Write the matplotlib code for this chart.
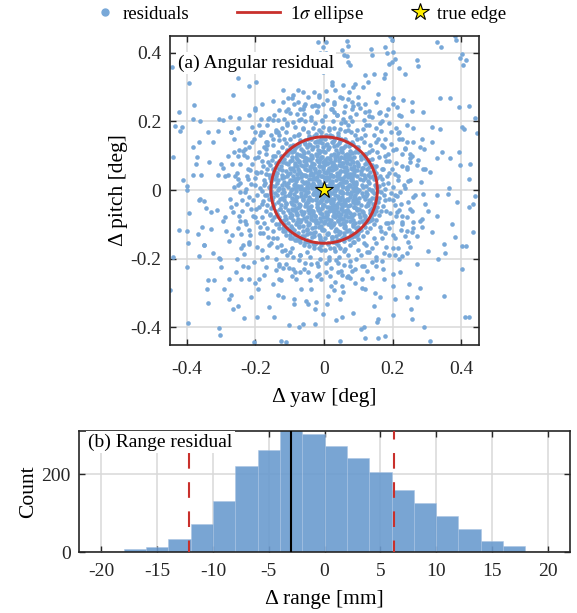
import numpy as np
import matplotlib
matplotlib.use("Agg")
import matplotlib.pyplot as plt
from matplotlib.patches import Ellipse
from matplotlib.lines import Line2D
from matplotlib.ticker import FuncFormatter

plt.rcParams["font.family"] = ["Liberation Serif", "DejaVu Serif"]
plt.rcParams["mathtext.fontset"] = "stix"
plt.rcParams["axes.unicode_minus"] = False

# angular residuals, (yaw, pitch) in milli-degrees
core_pts = [
    (-40, 152), (-12, 147), (18, 155), (45, 144), (5, 160), (-28, 141),
    (-80, 128), (-55, 133), (-31, 126), (-6, 137), (14, 124), (37, 131), (62, 127), (83, 135),
    (-68, 119), (24, 139), (-18, 118), (50, 116),
    (-105, 108), (-88, 114), (-71, 103), (-47, 111), (-25, 106), (-3, 113), (20, 101), (41, 109),
    (66, 104), (90, 112), (108, 99), (-60, 96), (7, 94), (77, 92), (-35, 92), (-95, 95),
    (-128, 84), (-112, 78), (-93, 88), (-74, 81), (-52, 86), (-29, 77), (-11, 89), (9, 80),
    (31, 87), (53, 79), (72, 90), (96, 83), (118, 76), (131, 88), (-63, 70), (-40, 66), (-2, 68),
    (22, 71), (63, 66), (88, 70), (-85, 72), (110, 63),
    (-142, 52), (-124, 59), (-106, 47), (-88, 56), (-69, 50), (-50, 58), (-32, 45), (-14, 55),
    (4, 49), (23, 58), (42, 46), (59, 54), (78, 48), (97, 57), (115, 45), (134, 53), (-118, 38),
    (-77, 36), (-45, 32), (-20, 38), (12, 34), (36, 29), (70, 37), (104, 33), (141, 40),
    (-135, 30), (-95, 28), (85, 24), (55, 22), (-60, 20),
    (-151, 12), (-131, 5), (-112, 16), (-94, 2), (-76, 11), (-57, 4), (-39, 15), (-21, 6),
    (-8, 18), (14, 3), (31, 13), (48, -2), (67, 9), (86, 17), (103, 1), (121, 12), (139, -4),
    (154, 8), (-143, -10), (-101, -15), (-66, -8), (-29, -12), (6, -16), (40, -20), (77, -11),
    (112, -18), (148, -22), (-124, -24), (-84, -28), (-47, -30), (-11, -34), (22, -27),
    (58, -33), (95, -37), (130, -30),
    (-148, -47), (-129, -55), (-110, -42), (-91, -58), (-73, -49), (-54, -40), (-36, -62),
    (-17, -51), (1, -44), (19, -57), (37, -48), (56, -61), (74, -43), (92, -52), (111, -60),
    (128, -45), (146, -56), (-138, -72), (-98, -78), (-63, -70), (-27, -76), (8, -69), (45, -79),
    (82, -73), (120, -77), (-118, -88), (-80, -92), (-44, -95), (-8, -90), (28, -97), (64, -91),
    (101, -94), (137, -86),
    (-117, -106), (-95, -112), (-72, -104), (-50, -117), (-28, -108), (-5, -114), (17, -103),
    (39, -118), (60, -110), (83, -105), (105, -116), (-85, -128), (-58, -133), (-33, -126),
    (-12, -137), (11, -129), (35, -134), (58, -125), (80, -131), (-40, -148), (-3, -152),
    (24, -146), (52, -141), (-70, -142),
    (-90, 40), (-82, -20), (-75, 60), (-70, -45), (-65, 25), (-58, -65), (-52, 75), (-48, 5),
    (-44, -20), (-40, 45), (-37, -85), (-33, 20), (-30, -5), (-26, 60), (-22, -40), (-19, 85),
    (-16, 25), (-13, -68), (-10, 5), (-7, 42), (-4, -22), (-1, 72), (2, -5), (5, 28), (8, -50),
    (11, 58), (14, 15), (17, -30), (20, 82), (23, -8), (26, 40), (29, -62), (32, -15), (35, 65),
    (38, 8), (41, -38), (44, 90), (47, 20), (50, -55), (53, -10), (56, 35), (60, -75), (63, 50),
    (66, 2), (70, -28), (74, 75), (78, -5), (82, 30), (86, -50), (90, 10), (94, -25), (-95, -40),
    (-88, 15), (-78, -70), (-72, 85), (-62, -28), (-55, 45), (-46, -48), (-42, 88), (-35, -30),
    (-28, 32), (-24, -92), (-20, -15), (-15, 52), (-11, -82), (-6, 12), (-3, -45), (0, 38),
    (3, 88), (6, -78), (9, 0), (12, -20), (16, 48), (19, -88), (22, 25), (27, -45), (30, 72),
    (34, -72), (37, 40), (40, -90), (43, -25), (46, 55), (49, -40), (52, 12), (55, -85), (58, 68),
    (62, -45), (65, 22), (69, -62), (72, 48), (76, -20), (80, 60), (84, -35), (88, 45), (-98, -10),
    (-92, 65), (-85, -55), (-80, 35), (-66, -88), (-60, 0), (-50, -80), (-38, 70), (-32, -60),
    (-25, 10), (-18, -58), (-12, 70), (-8, -30), (-2, 15), (4, -32), (10, 80), (15, -60), (21, 45),
    (25, -75), (31, -2), (36, -55), (42, 35), (48, -70), (54, 80), (59, -30), (64, 85), (68, -10),
    (73, 15), (79, -80), (85, 5), (-93, -72), (-87, -30), (-79, 10), (-68, 48), (-57, -15),
    (-45, -100), (-34, 100), (-23, -25), (-14, -5), (-5, 95), (1, -95), (13, 35), (24, -50),
    (33, 95), (45, -5), (57, -100), (67, 95), (77, 40), (87, -70), (97, -5),
]

core_fill_pts = [
    (-30, 157), (-5, 151), (22, 158),
    (-55, 145), (-38, 149), (-20, 144), (2, 150), (30, 146), (48, 149),
    (-72, 136), (-60, 141), (-44, 135), (-15, 140), (8, 134), (25, 141), (42, 137), (66, 139), (78, 133),
    (-90, 126), (-74, 131), (-50, 124), (-40, 130), (-22, 127), (-2, 125), (6, 132), (30, 128),
    (55, 123), (72, 129), (92, 126),
    (-100, 116), (-84, 121), (-62, 115), (-36, 120), (-12, 114), (12, 119), (34, 117), (48, 122),
    (76, 115), (97, 119),
    (-112, 106), (-94, 110), (-80, 104), (-58, 109), (-38, 103), (-14, 107), (2, 111), (30, 105),
    (52, 110), (60, 102), (82, 107), (100, 111), (118, 105),
    (-122, 96), (-108, 101), (-82, 95), (-64, 99), (-52, 94), (-20, 100), (-8, 96), (14, 93),
    (38, 99), (48, 95), (72, 101), (88, 96), (106, 100), (120, 94),
    (-132, 86), (-118, 91), (-100, 85), (-78, 90), (-58, 84), (-44, 89), (-22, 87), (-4, 83),
    (18, 90), (42, 86), (58, 92), (80, 85), (106, 89), (124, 84),
    (-138, 76), (-120, 81), (-104, 75), (-86, 80), (-66, 74), (-36, 79), (-16, 82), (4, 76),
    (26, 80), (44, 73), (66, 78), (84, 82), (100, 75), (126, 79), (138, 74),
    (-140, 66), (-126, 71), (-98, 64), (-80, 69), (-52, 72), (-30, 65), (-14, 70), (14, 64),
    (32, 69), (50, 71), (78, 65), (98, 70), (114, 63), (130, 68), (144, 66),
    (-146, 56), (-132, 61), (-112, 55), (-96, 60), (-74, 54), (-56, 62), (-40, 57), (-26, 53),
    (-4, 60), (12, 56), (30, 61), (50, 54), (68, 59), (86, 62), (108, 55), (124, 60), (144, 57),
    (-150, 46), (-138, 51), (-122, 44), (-100, 50), (-80, 47), (-62, 43), (-38, 51), (-18, 46),
    (0, 52), (20, 44), (38, 49), (66, 45), (88, 52), (106, 47), (128, 43), (150, 50),
    (-152, 36), (-140, 41), (-124, 35), (-108, 40), (-86, 33), (-68, 39), (-54, 42), (-30, 35),
    (-10, 40), (8, 37), (26, 42), (46, 34), (60, 40), (82, 36), (96, 41), (118, 34), (134, 39), (154, 35),
    (-156, 26), (-142, 31), (-116, 24), (-100, 30), (-82, 27), (-52, 23), (-36, 31), (-18, 26),
    (2, 29), (18, 24), (48, 31), (64, 25), (78, 29), (94, 23), (112, 30), (128, 26), (144, 31),
    (-156, 16), (-138, 21), (-122, 14), (-104, 20), (-86, 17), (-66, 13), (-48, 21), (-30, 15),
    (-14, 19), (4, 13), (22, 20), (40, 16), (58, 22), (76, 14), (94, 19), (110, 15), (130, 21), (148, 16),
    (-158, 6), (-144, 11), (-120, 4), (-104, 10), (-86, 7), (-70, 3), (-50, 11), (-34, 5),
    (-16, 9), (2, 6), (20, 11), (38, 4), (56, 8), (74, 12), (92, 5), (112, 9), (132, 3), (150, 10),
    (-154, -4), (-133, 1), (-118, -6), (-97, 0), (-82, -3), (-61, 2), (-46, -7), (-23, -1),
    (-8, 3), (15, -5), (30, 0), (51, -6), (66, 2), (87, -3), (100, 1), (123, -7), (138, 0), (156, -4),
    (-156, -10), (-137, -15), (-122, -8), (-103, -14), (-88, -11), (-67, -16), (-52, -9), (-33, -13),
    (-18, -7), (3, -14), (18, -10), (39, -16), (54, -8), (75, -12), (90, -15), (111, -9), (126, -13), (146, -8),
    (-150, -20), (-129, -25), (-114, -18), (-93, -24), (-78, -21), (-57, -17), (-42, -26), (-21, -19),
    (-6, -23), (15, -18), (30, -25), (51, -20), (66, -27), (87, -19), (102, -24), (123, -17), (138, -22), (152, -26),
    (-152, -30), (-133, -35), (-118, -28), (-97, -34), (-82, -31), (-61, -27), (-46, -36), (-25, -29),
    (-10, -33), (11, -28), (26, -35), (47, -30), (62, -37), (83, -29), (98, -34), (119, -27), (134, -32), (150, -36),
    (-146, -40), (-125, -45), (-110, -38), (-89, -44), (-74, -41), (-53, -37), (-38, -46), (-17, -39),
    (-2, -43), (19, -38), (34, -45), (55, -40), (70, -47), (91, -39), (106, -44), (127, -37), (142, -42),
    (-148, -50), (-129, -55), (-114, -48), (-93, -54), (-78, -51), (-57, -47), (-42, -56), (-21, -49),
    (-6, -53), (15, -48), (30, -55), (51, -50), (66, -57), (87, -49), (102, -54), (123, -47), (138, -52),
    (-140, -60), (-119, -65), (-104, -58), (-83, -64), (-68, -61), (-47, -57), (-32, -66), (-11, -59),
    (4, -63), (25, -58), (40, -65), (61, -60), (76, -67), (97, -59), (112, -64), (133, -57), (146, -62),
    (-136, -70), (-115, -75), (-100, -68), (-79, -74), (-64, -71), (-43, -67), (-28, -76), (-7, -69),
    (8, -73), (29, -68), (44, -75), (65, -70), (80, -77), (101, -69), (116, -74), (134, -67),
    (-132, -80), (-111, -85), (-96, -78), (-75, -84), (-60, -81), (-39, -77), (-24, -86), (-3, -79),
    (12, -83), (33, -78), (48, -85), (69, -80), (84, -87), (105, -79), (120, -84), (136, -77),
    (-126, -90), (-105, -95), (-90, -88), (-69, -94), (-54, -91), (-33, -87), (-18, -96), (3, -89),
    (18, -93), (39, -88), (54, -95), (75, -90), (90, -97), (111, -89), (126, -94),
    (-118, -100), (-97, -105), (-82, -98), (-61, -104), (-46, -101), (-25, -97), (-10, -106), (11, -99),
    (26, -103), (47, -98), (62, -105), (83, -100), (98, -107), (116, -99),
    (-108, -110), (-87, -115), (-72, -108), (-51, -114), (-36, -111), (-15, -107), (0, -116), (21, -109),
    (36, -113), (57, -108), (72, -115), (93, -110), (108, -117),
    (-98, -120), (-77, -125), (-62, -118), (-41, -124), (-26, -121), (-5, -117), (10, -126), (31, -119),
    (46, -123), (67, -118), (82, -125), (100, -120),
    (-86, -130), (-65, -135), (-50, -128), (-29, -134), (-14, -131), (7, -127), (22, -136), (43, -129),
    (58, -133), (79, -128), (90, -135),
    (-70, -140), (-49, -145), (-34, -138), (-13, -144), (2, -141), (23, -137), (38, -146), (59, -139), (72, -143),
    (-46, -150), (-25, -155), (-10, -148), (11, -154), (26, -151), (44, -147),
]

ring_pts = [
    (172, 18), (195, -8), (214, 30), (236, 5), (258, -20), (283, 22), (205, 48),
    (168, 62), (188, 85), (226, 70), (249, 105), (272, 88), (210, 120), (295, 60),
    (130, 110), (150, 140), (175, 125), (196, 170), (218, 148), (240, 190), (162, 195),
    (95, 150), (112, 178), (80, 200), (130, 215), (104, 240), (150, 255), (70, 265),
    (40, 165), (15, 182), (-10, 170), (55, 208), (28, 226), (-18, 245), (45, 270), (5, 288),
    (-45, 158), (-62, 180), (-38, 205), (-80, 222), (-55, 250), (-95, 268), (-30, 285),
    (-100, 128), (-118, 150), (-140, 175), (-108, 196), (-160, 210), (-130, 232), (-180, 250),
    (-148, 100), (-170, 120), (-192, 96), (-210, 140), (-235, 115), (-188, 160), (-262, 150),
    (-160, 45), (-178, 70), (-200, 35), (-222, 60), (-245, 20), (-268, 75), (-290, 40),
    (-165, -15), (-186, 5), (-208, -30), (-230, -5), (-252, 15), (-275, -25), (-198, -55),
    (-158, -70), (-176, -95), (-200, -80), (-220, -115), (-245, -90), (-268, -130), (-188, -125),
    (-120, -110), (-138, -140), (-160, -160), (-182, -175), (-140, -200), (-205, -210), (-115, -175),
    (-80, -145), (-95, -168), (-70, -190), (-110, -215), (-85, -240), (-125, -262), (-60, -230),
    (-30, -160), (-8, -175), (15, -195), (-22, -212), (5, -238), (-40, -262), (20, -280),
    (40, -160), (58, -178), (35, -205), (75, -220), (52, -248), (90, -270), (30, -290),
    (95, -130), (115, -155), (130, -180), (150, -205), (110, -220), (172, -230), (140, -255),
    (140, -85), (162, -108), (185, -95), (200, -130), (225, -115), (245, -150), (215, -170),
    (158, -35), (180, -60), (205, -45), (228, -75), (250, -55), (278, -90), (295, -40),
    (165, -5), (182, 40), (200, 10), (176, 100), (158, 150), (120, 160), (70, 175), (-5, 200),
    (-75, 160), (-130, 145), (-165, 130), (-172, 20), (-180, -40), (-150, -120), (-95, -140),
    (-50, -180), (30, -170), (85, -150), (150, -60), (190, -25), (240, 60), (225, 215),
    (180, 220), (100, 270), (-15, 270), (-75, 255), (-150, 260), (-210, 185), (-250, 180),
    (-225, 95), (-280, 100), (-270, -50), (-235, -160), (-170, -225), (-95, -250), (-10, -260),
    (70, -250), (125, -235), (190, -190), (260, -110), (265, -15), (290, 120), (255, 230),
    (200, 250), (-120, 290), (-200, 240), (-290, -80), (-255, -200), (-190, -260), (110, -285),
    (178, 3), (221, -6), (186, 20), (232, 15), (169, 33), (214, 40), (190, 49), (240, 68),
    (172, 60), (209, 78), (180, 86), (226, 104), (160, 95), (200, 118), (154, 110), (196, 135),
    (140, 118), (178, 150), (133, 132), (165, 172), (117, 141), (150, 180), (106, 152), (130, 188),
    (90, 160), (115, 205), (78, 168), (92, 222), (60, 172), (76, 212), (47, 178), (58, 228),
    (30, 180), (38, 218), (14, 176), (20, 235), (-3, 185), (2, 216), (-16, 176), (-20, 228),
    (-32, 182), (-38, 212), (-46, 170), (-58, 222), (-62, 178), (-74, 205), (-72, 162), (-90, 198),
    (-88, 158), (-108, 190), (-100, 150), (-124, 180), (-112, 136), (-140, 168), (-124, 124),
    (-150, 150), (-134, 112), (-166, 140), (-144, 100), (-176, 126), (-152, 88), (-190, 110),
    (-158, 74), (-200, 92), (-166, 60), (-210, 76), (-170, 46), (-216, 58), (-176, 30), (-224, 40),
    (-174, 16), (-212, 18), (-180, -2), (-228, 3), (-172, -15), (-218, -20), (-178, -32), (-226, -40),
    (-166, -45), (-212, -56), (-170, -62), (-206, -75), (-158, -74), (-196, -92), (-152, -88),
    (-186, -108), (-140, -98), (-178, -124), (-132, -110), (-164, -138), (-120, -120), (-154, -154),
    (-110, -132), (-138, -166), (-98, -140), (-124, -178), (-84, -146), (-108, -188), (-70, -152),
    (-90, -196), (-58, -160), (-74, -204), (-44, -164), (-56, -212), (-30, -170), (-38, -216),
    (-14, -168), (-18, -222), (2, -174), (4, -214), (16, -170), (20, -226), (32, -178), (40, -212),
    (46, -168), (58, -218), (60, -172), (76, -206), (74, -160), (92, -200), (86, -152), (108, -188),
    (100, -144), (124, -180), (112, -134), (140, -168), (124, -122), (152, -154), (134, -112),
    (168, -140), (144, -100), (178, -126), (152, -88), (190, -110), (160, -74), (198, -92),
    (166, -60), (210, -76), (172, -46), (218, -58), (176, -30), (224, -40), (174, -14), (212, -18),
    (-150, 205), (-110, 230), (-60, 245), (-20, 230), (30, 250), (80, 235), (130, 230), (170, 200),
    (210, 180), (-190, 190), (-230, 140), (-250, 100), (-260, 40), (-240, -30), (-250, -110),
    (-220, -150), (-180, -200), (-130, -220), (-70, -240), (-20, -250), (40, -240), (90, -230),
    (150, -220), (200, -170), (240, -120), (255, -60), (250, 30), (240, 140), (260, 180), (-270, 170),
    (160, 12), (205, -14), (245, 25), (163, 42), (198, 60), (250, 82), (150, 70), (185, 105),
    (235, 120), (140, 90), (170, 130), (215, 165), (122, 105), (145, 160), (190, 195), (100, 125),
    (122, 190), (160, 225), (80, 140), (95, 175), (120, 250), (62, 150), (70, 190), (85, 245),
    (40, 158), (50, 195), (60, 245), (18, 160), (25, 200), (28, 255), (-8, 158), (-6, 205),
    (-2, 250), (-25, 162), (-28, 195), (-35, 245), (-48, 150), (-55, 200), (-70, 235), (-70, 145),
    (-85, 185), (-100, 225), (-90, 130), (-110, 170), (-135, 205), (-108, 118), (-130, 160),
    (-165, 190), (-125, 100), (-150, 130), (-185, 170), (-140, 80), (-168, 105), (-205, 150),
    (-150, 60), (-180, 85), (-230, 120), (-158, 35), (-195, 50), (-245, 75), (-162, 8), (-200, 15),
    (-255, 50), (-160, -25), (-195, -15), (-245, -5), (-155, -52), (-190, -48), (-240, -60),
    (-145, -78), (-180, -80), (-230, -90), (-130, -100), (-165, -110), (-215, -130), (-115, -118),
    (-150, -140), (-195, -165), (-98, -130), (-125, -160), (-165, -195), (-78, -142), (-100, -180),
    (-130, -215), (-55, -150), (-70, -190), (-90, -230), (-32, -155), (-40, -195), (-48, -240),
    (-10, -160), (-12, -200), (-15, -245), (12, -158), (15, -205), (18, -250), (35, -155),
    (42, -195), (50, -235), (58, -148), (70, -190), (82, -235), (80, -138), (98, -175), (115, -220),
    (100, -124), (122, -160), (150, -195), (118, -108), (145, -140), (180, -165), (132, -90),
    (165, -118), (205, -140), (145, -70), (180, -95), (228, -100), (155, -48), (192, -68),
    (240, -80), (160, -22), (200, -30), (245, -35),
]

outer_pts = [
    (-17, 430), (5, 432), (-13, 400), (5, 400), (69, 421), (57, 392), (69, 374), (139, 392),
    (182, 400), (198, 438), (207, 383), (190, 368), (339, 417), (385, 437), (412, 379),
    (404, 365), (274, 360),
    (-444, 359), (-393, 312), (-252, 325), (-218, 304), (-198, 315), (-264, 278), (-380, 247),
    (-424, 226), (-383, 206), (-361, 200), (-415, 184), (-435, 186), (-419, 171), (-307, 208),
    (-296, 205), (-273, 213), (-247, 210), (-218, 218), (-201, 234), (-184, 206), (-164, 206),
    (-145, 218), (-121, 257), (-104, 267), (-91, 276), (-77, 291), (-62, 286), (-48, 271),
    (-28, 247), (-14, 276), (-339, 169), (-325, 140), (-310, 171), (-364, 140), (-383, 126),
    (-370, 96), (-374, 77), (-334, 82), (-301, 77), (-296, 63), (-271, 169), (-262, 111),
    (-247, 116), (-232, 102), (-218, 126), (-201, 169), (-179, 169), (-169, 140), (-155, 160),
    (-135, 169), (-310, 43), (-281, 43), (-252, 33), (-223, 33), (-198, 53), (-359, 43),
    (-383, 43), (-412, 28), (-441, 96), (-398, 12), (-262, 9), (-184, 53), (-164, 82),
    (-106, 237), (-87, 252), (-62, 237), (-116, 208), (-67, 208),
    (-2, 417), (66, 435), (192, 449), (178, 417), (137, 410), (53, 408), (66, 391), (200, 401),
    (197, 373), (328, 432), (380, 449), (401, 395), (396, 385), (270, 378), (217, 356),
    (236, 339), (178, 339), (76, 364), (119, 335), (144, 337), (173, 325), (129, 315), (90, 310),
    (56, 305), (22, 305), (32, 291), (71, 286), (85, 301), (114, 301), (158, 281), (202, 267),
    (231, 262), (255, 255), (289, 228), (338, 267), (367, 267), (392, 242), (423, 245),
    (440, 210), (401, 184), (406, 179), (445, 167), (314, 184), (338, 179), (343, 111),
    (367, 92), (392, 111), (396, 74), (421, 33), (426, 77), (364, 6), (314, 140), (285, 150),
    (280, 126), (260, 140), (270, 72), (289, 62), (309, 53), (328, 92), (255, 99), (251, 92),
    (236, 121), (226, 150), (217, 169), (212, 242), (217, 218), (187, 237), (163, 228),
    (139, 213), (119, 228), (100, 252), (80, 257), (51, 267), (22, 237), (8, 262), (37, 218),
    (61, 199), (-2, 344), (22, 315),
    (-398, 0), (-422, -116), (-400, -119), (-393, -68), (-396, -153), (-441, -196), (-398, -225),
    (-364, -191), (-344, -52), (-364, -29), (-356, -107), (-349, -160), (-330, -114),
    (-325, -182), (-305, -199), (-300, -225), (-339, -261), (-320, -261), (-341, -289),
    (-337, -329), (-293, -289), (-276, -318), (-252, -337), (-271, -306), (-264, -347),
    (-232, -373), (-305, -403), (-303, -421), (-396, -386), (-448, -292), (-203, -444),
    (-196, -371), (-213, -311), (-194, -287), (-201, -272), (-174, -247), (-160, -342),
    (-145, -369), (-126, -439), (-111, -442), (-101, -393), (-62, -391), (-72, -400),
    (-28, -391), (-26, -347), (-53, -323), (-87, -332), (-89, -318), (-121, -313), (-135, -306),
    (-150, -274), (-130, -259), (-121, -228), (-140, -232), (-101, -228), (-82, -258),
    (-67, -289), (-38, -289), (-24, -327), (-48, -332), (-237, -221), (-223, -223), (-257, -238),
    (-276, -259), (-242, -259), (-218, -259), (-296, -89), (-276, -148), (-286, -118),
    (-242, -170), (-232, -187), (-218, -157), (-302, -201), (-367, -128), (-351, -160),
    (-247, -75), (-228, -99), (-242, -128), (-330, -65), (-312, -57), (-266, -65), (-257, -41),
    (-362, -26), (-349, -31),
    (289, -12), (328, -14), (362, -12), (387, -36), (440, -16), (435, -41), (421, -48),
    (372, -99), (328, -75), (285, -85), (260, -94), (304, -60), (435, -123), (401, -162),
    (413, -162), (380, -138), (348, -157), (353, -182), (333, -201), (302, -177), (270, -216),
    (241, -182), (251, -167), (314, -123), (285, -109), (255, -123), (226, -94), (212, -65),
    (401, -230), (348, -310), (411, -371), (421, -369), (292, -400), (309, -439), (270, -313),
    (280, -284), (246, -274), (241, -313), (253, -347), (255, -376), (202, -364), (207, -318),
    (178, -425), (156, -430), (119, -430), (115, -400), (108, -405), (85, -359), (51, -371),
    (34, -378), (46, -439), (158, -376), (153, -384), (163, -313), (149, -300), (144, -337),
    (119, -289), (110, -259), (76, -255), (66, -252), (46, -318), (10, -310), (8, -332),
    (-2, -362), (32, -269), (51, -279), (56, -298), (202, -279), (202, -245), (221, -240),
    (173, -259), (226, -191), (217, -201), (205, -189), (270, -133), (236, -133), (173, -182),
    (168, -206), (139, -211),
]

sigma_yaw = 0.155
sigma_pitch = 0.155

# range residual histogram (2 mm bins)
bin_edges = np.arange(-22, 24, 2)
range_counts = [0, 0, 8, 14, 34, 72, 132, 220, 261, 330, 302,
                271, 242, 206, 158, 127, 93, 60, 28, 15, 1, 2]
range_mean = -2.97
range_std = 9.19

dot_color = "#78a8d8"
red = "#c9302c"
spine_color = "#262626"
grid_color = "#d9d9d9"

fig = plt.figure(figsize=(5.77, 6.13), dpi=100)
ax1 = fig.add_axes([0.294, 0.438, 0.5355, 0.504])
ax2 = fig.add_axes([0.137, 0.099, 0.851, 0.198])

# --- (a) angular residual ---
pts = np.array(core_pts + core_fill_pts + ring_pts + outer_pts) / 1000.0
ax1.scatter(pts[:, 0], pts[:, 1], s=11, color=dot_color, linewidths=0, zorder=2)
ax1.add_patch(Ellipse((0, 0), 2 * sigma_yaw, 2 * sigma_pitch, fill=False,
                      edgecolor=red, linewidth=2.1, zorder=3))
ax1.plot([0], [0], marker="*", markersize=13, color="#ffee00",
         markeredgecolor="black", markeredgewidth=0.8, linestyle="none", zorder=4)
ax1.set_xlim(-0.45, 0.45)
ax1.set_ylim(-0.45, 0.45)
ax1.set_xticks([-0.4, -0.2, 0, 0.2, 0.4])
ax1.set_yticks([-0.4, -0.2, 0, 0.2, 0.4])
fmt = FuncFormatter(lambda v, p: "%g" % round(v, 2))
ax1.xaxis.set_major_formatter(fmt)
ax1.yaxis.set_major_formatter(fmt)
ax1.set_xlabel("Δ yaw [deg]", fontsize=15.5, labelpad=7)
ax1.set_ylabel("Δ pitch [deg]", fontsize=15.5, labelpad=2)
ax1.text(0.027, 0.911, "(a) Angular residual", transform=ax1.transAxes,
         fontsize=14, va="center", ha="left", zorder=5,
         bbox=dict(facecolor="white", edgecolor="none", pad=1.5))

# --- (b) range residual ---
ax2.bar(bin_edges[:-1], range_counts, width=2, align="edge", color="#6b9bcf",
        alpha=0.9, edgecolor="#a9c4e3", linewidth=0.4, zorder=2)
ax2.axvline(range_mean, color="black", linewidth=1.5, zorder=3)
for xv in (range_mean - range_std, range_mean + range_std):
    ax2.axvline(xv, color=red, linewidth=1.5, linestyle=(2, (7.5, 6.5)), zorder=3)
ax2.set_xlim(-22, 22)
ax2.set_ylim(0, 310)
ax2.set_xticks([-20, -15, -10, -5, 0, 5, 10, 15, 20])
ax2.set_yticks([0, 200])
ax2.set_xlabel("Δ range [mm]", fontsize=15.5, labelpad=7)
ax2.set_ylabel("Count", fontsize=15.5, labelpad=2)
ax2.text(0.019, 0.91, "(b) Range residual", transform=ax2.transAxes,
         fontsize=14, va="center", ha="left", zorder=5,
         bbox=dict(facecolor="white", edgecolor="none", pad=1.5))

for ax in (ax1, ax2):
    ax.grid(True, color=grid_color, linewidth=1.1, zorder=0)
    ax.set_axisbelow(True)
    ax.tick_params(direction="in", top=True, right=True, length=4, width=1.0,
                   labelsize=14, colors=spine_color, pad=6)
    for s in ax.spines.values():
        s.set_color(spine_color)
        s.set_linewidth(1.2)
ax1.tick_params(axis="x", pad=12)
ax2.tick_params(axis="x", pad=8)

# legend: three entries laid out in one row above panel (a)
legend_entries = [
    (Line2D([], [], marker="o", markersize=5, color=dot_color, linestyle="none"),
     "residuals", 0.165, 1.0, 0.44),
    (Line2D([], [], color=red, linewidth=2.0),
     "1$\\sigma$ ellipse", 0.411, 2.3, 0.53),
    (Line2D([], [], marker="*", markersize=13, color="#ffee00",
            markeredgecolor="black", markeredgewidth=0.8, linestyle="none"),
     "true edge", 0.712, 1.0, 0.41),
]
for handle, label, x0, hlen, hpad in legend_entries:
    fig.legend([handle], [label], loc="center left", bbox_to_anchor=(x0, 0.977),
               frameon=False, fontsize=13.5, handlelength=hlen, handletextpad=hpad,
               borderpad=0, borderaxespad=0)

fig.savefig("out.png", dpi=100)
